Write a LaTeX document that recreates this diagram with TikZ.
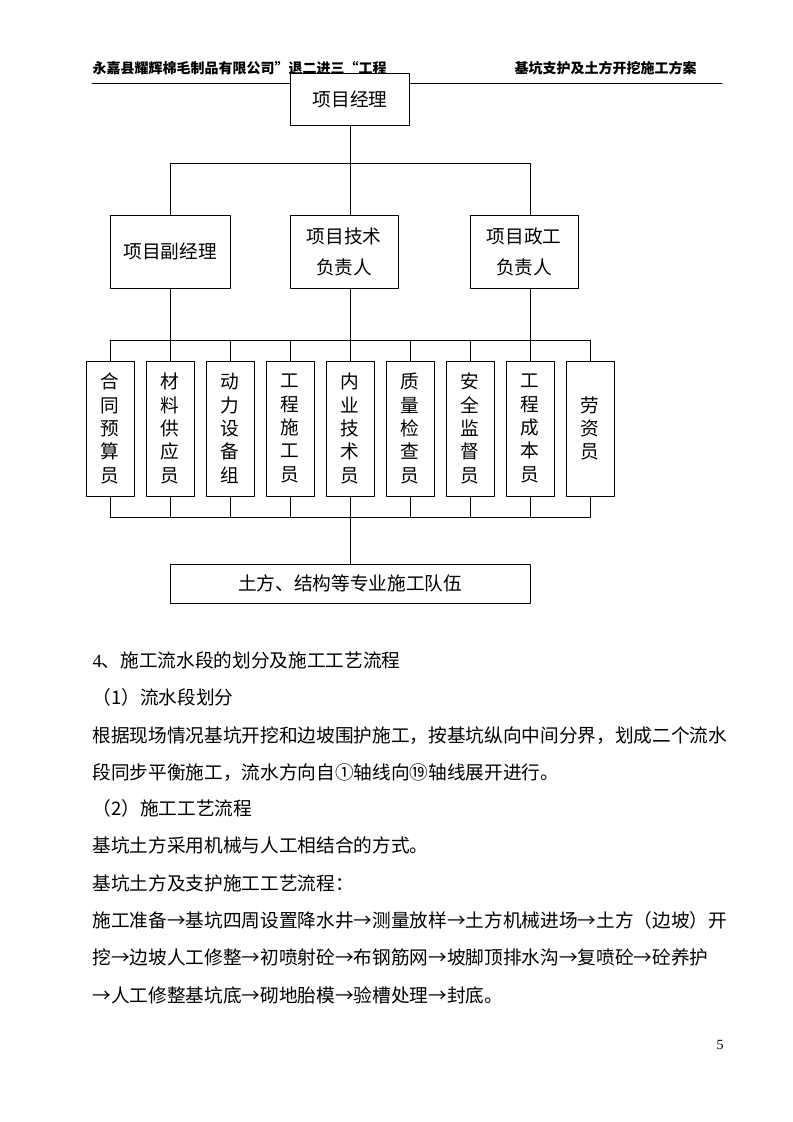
\documentclass[tikz,border=0pt]{standalone}
\usepackage{fontspec}
\setmainfont{Liberation Serif}
\newfontfamily\cjk{Noto Sans CJK SC}
\newcommand\zw{\cjk\fontsize{14pt}{17.5pt}\selectfont}
\newcommand\zwl{\cjk\fontsize{14pt}{23.25pt}\selectfont}
\newcommand\hd{\cjk\bfseries\fontsize{10.5pt}{12pt}\selectfont}
\begin{document}
\begin{tikzpicture}[x=.75pt,y=-.75pt,line width=.75pt,line cap=round,line join=round,font=\zw,
	box/.style={draw,fill=white,inner sep=0pt,align=center},
	txt/.style={anchor=base west,inner sep=0pt}]
	\useasboundingbox (0,0) rectangle (793,1122);
	\node[txt,font=\hd] (hl) at (92,73) {永嘉县耀辉棉毛制品有限公司”退二进三“工程};
	\node[txt,font=\hd] (hr) at (514,73) {基坑支护及土方开挖施工方案};
	\draw (92,83)--(722,83);
	\node[box,minimum width=89.25pt,minimum height=39pt] (pm) at (350,99) {项目经理};
	\node[box,minimum width=90pt,minimum height=54.75pt] (vpm) at (170,251.5) {项目副经理};
	\node[box,minimum width=81pt,minimum height=54.75pt,font=\zwl] (tech) at (344,251.5) {项目技术\\负责人};
	\node[box,minimum width=81pt,minimum height=54.75pt,font=\zwl] (pol) at (524,251.5) {项目政工\\负责人};
	\coordinate (b1) at (350,163);
	\coordinate (b2) at (350,340);
	\coordinate (b3) at (350,517);
	\draw (pm.south)--(b1) ([xshift=4.5pt]tech.north)--(b1);
	\draw (vpm.north) |- ([xshift=4.5pt]pol.north |- b1)--([xshift=4.5pt]pol.north);
	\draw (vpm.south)--(vpm.south |- b2) ([xshift=4.5pt]tech.south)--(b2) ([xshift=4.5pt]pol.south)--([xshift=4.5pt]pol.south |- b2);
	\foreach \t [count=\i from 0] in {{合\\同\\预\\算\\员},{材\\料\\供\\应\\员},{动\\力\\设\\备\\组},{工\\程\\施\\工\\员},{内\\业\\技\\术\\员},{质\\量\\检\\查\\员},{安\\全\\监\\督\\员},{工\\程\\成\\本\\员},{劳\\资\\员}}{
		\node[box,minimum width=36pt,minimum height=101.25pt] (s\i) at (110+60*\i,428.5) {\t};
		\draw (s\i.north)--(s\i.north |- b2) (s\i.south)--(s\i.south |- b3);
	}
	\draw (s0.north |- b2)--(s8.north |- b2) (s0.south |- b3)--(s8.south |- b3);
	\node[box,minimum width=270pt,minimum height=29.25pt] (team) at (350,583.5) {土方、结构等专业施工队伍};
	\draw (b3)--(team.north);
	\foreach \y/\t [count=\i] in {667/{{\rmfamily 4}、施工流水段的划分及施工工艺流程},704/（1）流水段划分,742/根据现场情况基坑开挖和边坡围护施工，按基坑纵向中间分界，划成二个流水,779/段同步平衡施工，流水方向自①轴线向⑲轴线展开进行。,815/（2）施工工艺流程,852/基坑土方采用机械与人工相结合的方式。,890/基坑土方及支护施工工艺流程：,927/施工准备→基坑四周设置降水井→测量放样→土方机械进场→土方（边坡）开,964/挖→边坡人工修整→初喷射砼→布钢筋网→坡脚顶排水沟→复喷砼→砼养护,1002/→人工修整基坑底→砌地胎模→验槽处理→封底。}
		\node[txt] (l\i) at (92,\y) {\t};
	\node[txt,font=\rmfamily\fontsize{10.5pt}{12pt}\selectfont] (pg) at (716,1049) {5};
\end{tikzpicture}
\end{document}
